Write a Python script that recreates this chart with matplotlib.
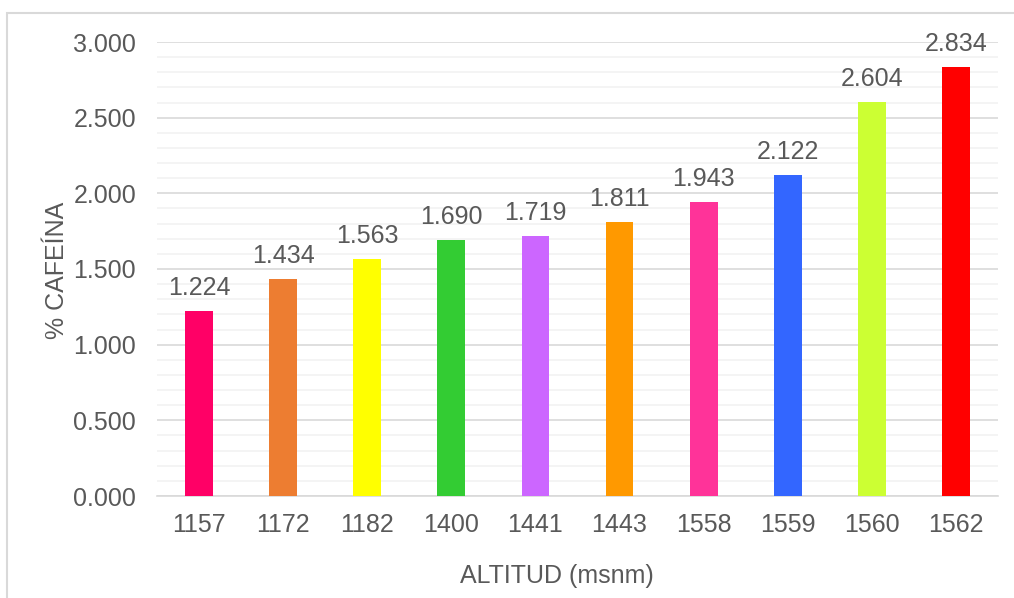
import matplotlib.pyplot as plt
from matplotlib.patches import Rectangle
from matplotlib.ticker import MultipleLocator

altitudes = ["1157", "1172", "1182", "1400", "1441", "1443", "1558", "1559", "1560", "1562"]
caffeine = [1.224, 1.434, 1.563, 1.690, 1.719, 1.811, 1.943, 2.122, 2.604, 2.834]
colors = ["#FF0066", "#ED7D31", "#FFFF00", "#33CC33", "#CC66FF",
          "#FF9900", "#FF3399", "#3366FF", "#CCFF33", "#FF0000"]

plt.rcParams["font.family"] = ["Liberation Sans", "DejaVu Sans"]
text_color = "#595959"
fs = 18

fig = plt.figure(figsize=(10.14, 5.98), dpi=100)
ax = fig.add_axes([157 / 1014, 1 - 496 / 598, 841 / 1014, 454 / 598])

x = range(len(altitudes))
bars = ax.bar(x, caffeine, width=0.33, color=colors, zorder=3)

for b, v in zip(bars, caffeine):
    ax.annotate(f"{v:.3f}", (b.get_x() + b.get_width() / 2, v),
                xytext=(0, 8), textcoords="offset points",
                ha="center", va="bottom", fontsize=fs, color=text_color)

ax.set_xlim(-0.5, len(altitudes) - 0.5)
ax.set_ylim(0, 3.0)
ax.yaxis.set_minor_locator(MultipleLocator(0.1))
ax.set_yticks([i * 0.5 for i in range(7)])
ax.set_yticklabels([f"{i * 0.5:.3f}" for i in range(7)])
ax.set_xticks(list(x))
ax.set_xticklabels(altitudes)

ax.grid(which="major", axis="y", color="#D9D9D9", linewidth=1.2, zorder=0)
ax.grid(which="minor", axis="y", color="#F2F2F2", linewidth=1.2, zorder=0)
for s in ["top", "right", "left"]:
    ax.spines[s].set_visible(False)
ax.spines["bottom"].set_color("#D9D9D9")
ax.spines["bottom"].set_linewidth(1.2)
ax.tick_params(which="both", length=0, labelsize=fs, labelcolor=text_color)
ax.tick_params(axis="y", pad=15)
ax.tick_params(axis="x", pad=12)

fig.text(557 / 1014, 1 - 576 / 598, "ALTITUD (msnm)", ha="center", va="center",
         fontsize=fs, color=text_color)
fig.text(57 / 1014, 1 - 270 / 598, "% CAFEÍNA", ha="center", va="center",
         rotation=90, fontsize=fs, color=text_color)

fig.patches.append(Rectangle((7 / 1014, -0.1), 1.2, 1 - 13 / 598 + 0.1,
                             transform=fig.transFigure, fill=False,
                             edgecolor="#D9D9D9", linewidth=1.5))

fig.savefig("out.png", dpi=100)
